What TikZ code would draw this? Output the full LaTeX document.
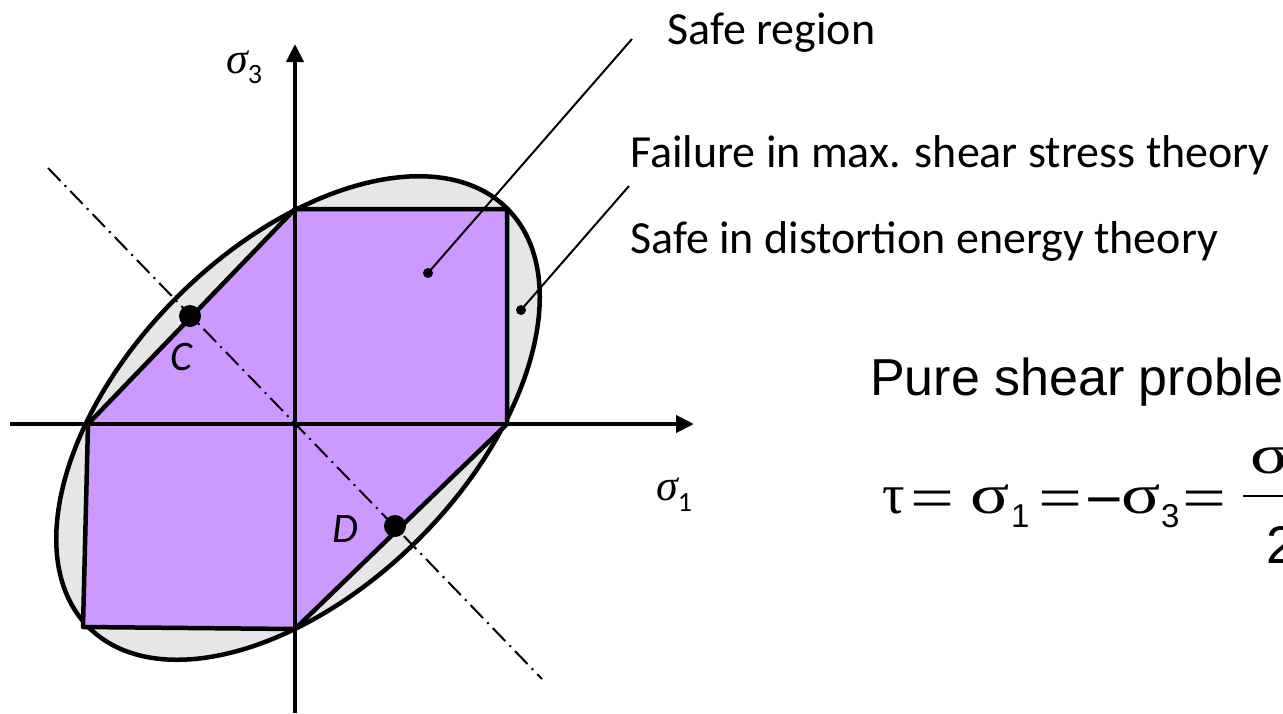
\documentclass[tikz,border=0pt]{standalone}
\usepackage{fontspec}
\setmainfont{Carlito}
\newfontfamily\arialf{Liberation Sans}
\newfontfamily\grkf{Liberation Serif}
\usetikzlibrary{arrows.meta}
\definecolor{purp}{RGB}{204,153,255}
\definecolor{lgray}{RGB}{230,230,230}
\begin{document}
\begin{tikzpicture}[x=1pt,y=-1pt,
  outline/.style={line width=4.5pt,line join=round},
  axisline/.style={line width=4pt,-{Triangle[length=18pt,width=17pt]}},
  leader/.style={line width=2pt},
  dashdot/.style={line width=2pt,dash pattern=on 18pt off 6pt on 2pt off 6pt},
  lbl/.style={font=\fontsize{46}{50}\selectfont,inner sep=0pt,anchor=base west},
  ptlbl/.style={font=\fontsize{42}{44}\selectfont\itshape,inner sep=0pt,anchor=base west},
  axlbl/.style={font=\fontsize{44}{44}\selectfont\grkf\itshape,inner sep=0pt,anchor=base west},
  bigdot/.style={circle,fill=black,inner sep=0pt,minimum size=22pt},
  smalldot/.style={circle,fill=black,inner sep=0pt,minimum size=10pt},
  eq/.style={inner sep=0pt,anchor=base west},
  greek/.style={eq,font=\fontsize{56}{56}\selectfont\grkf},
  eqsign/.style={inner sep=0pt,anchor=base,font=\fontsize{60}{60}\selectfont\grkf},
  minussign/.style={inner sep=0pt,anchor=base,font=\fontsize{56}{56}\selectfont\arialf},
]
\useasboundingbox (0,0) rectangle (1283,713);
\clip (0,0) rectangle (1283,713);

% ellipse (distortion energy)
\draw[outline,fill=lgray,rotate around={45:(298,418)}] (298,418) ellipse [x radius=296, y radius=171];

% hexagon (max shear stress)
\draw[outline,fill=purp] (295,209) -- (507,209) -- (507,424) -- (295,629) -- (83,627) -- (88,424) -- cycle;

% axes
\coordinate (vb) at (295,713);
\coordinate (vt) at (295,44);
\coordinate (hl) at (10,424);
\coordinate (hr) at (694,424);
\draw[axisline] (vb) -- (vt);
\draw[axisline] (hl) -- (hr);

% dash-dot line
\coordinate (ddA) at (48,168);
\coordinate (ddB) at (542,679);
\draw[dashdot] (ddA) -- (ddB);

% points C and D
\node[bigdot] (C) at (190,316) {};
\node[bigdot] (D) at (395,526) {};
\node[ptlbl] (Clbl) at (170,370) {C};
\node[ptlbl] (Dlbl) at (332,542) {D};

% axis labels
\node[axlbl] (s3) at (226,73) {σ\raisebox{-10pt}{\fontsize{28}{28}\selectfont\normalfont 3}};
\node[axlbl] (s1) at (656,500) {σ\raisebox{-11pt}{\fontsize{28}{28}\selectfont\normalfont 1}};

% leaders
\node[smalldot] (p1) at (428,273) {};
\node[smalldot] (p2) at (521,310) {};
\coordinate (l1) at (632,39);
\coordinate (l2) at (629,186);
\draw[leader] (p1.center) -- (l1);
\draw[leader] (p2.center) -- (l2);

% texts
\node[lbl] (t1) at (667,44) {Safe region};
\node[lbl] (t2) at (630,167) {Failure in max. shear stress theory};
\node[lbl] (t3) at (630,253) {Safe in distortion energy theory};

\node[eq,font=\fontsize{52}{56}\selectfont\arialf] (ps) at (870,395) {Pure shear problem};

% equation
\node[greek] (tau) at (882,513) {τ};
\node[eqsign] (e1) at (932,518) {\scalebox{1.3}[1]{=}};
\node[greek] (sg1) at (970,513) {\scalebox{1.3}[1]{σ}};
\node[eq,font=\fontsize{33}{33}\selectfont\arialf] (sub1) at (1011,527) {1};
\node[eqsign] (e2) at (1060,518) {\scalebox{1.3}[1]{=}};
\node[minussign] (mn) at (1104,518) {\scalebox{1.15}[1]{−}};
\node[greek] (sg3) at (1121,513) {\scalebox{1.3}[1]{σ}};
\node[eq,font=\fontsize{33}{33}\selectfont\arialf] (sub3) at (1161,527) {3};
\node[eqsign] (e3) at (1204,518) {\scalebox{1.3}[1]{=}};
\coordinate (fbL) at (1243,496);
\coordinate (fbR) at (1300,496);
\draw[line width=2.5pt] (fbL) -- (fbR);
\node[greek] (num) at (1250,473) {\scalebox{1.3}[1]{σ}};
\node[eq,font=\fontsize{53}{53}\selectfont\arialf] (den) at (1266,563) {2};
\end{tikzpicture}
\end{document}
